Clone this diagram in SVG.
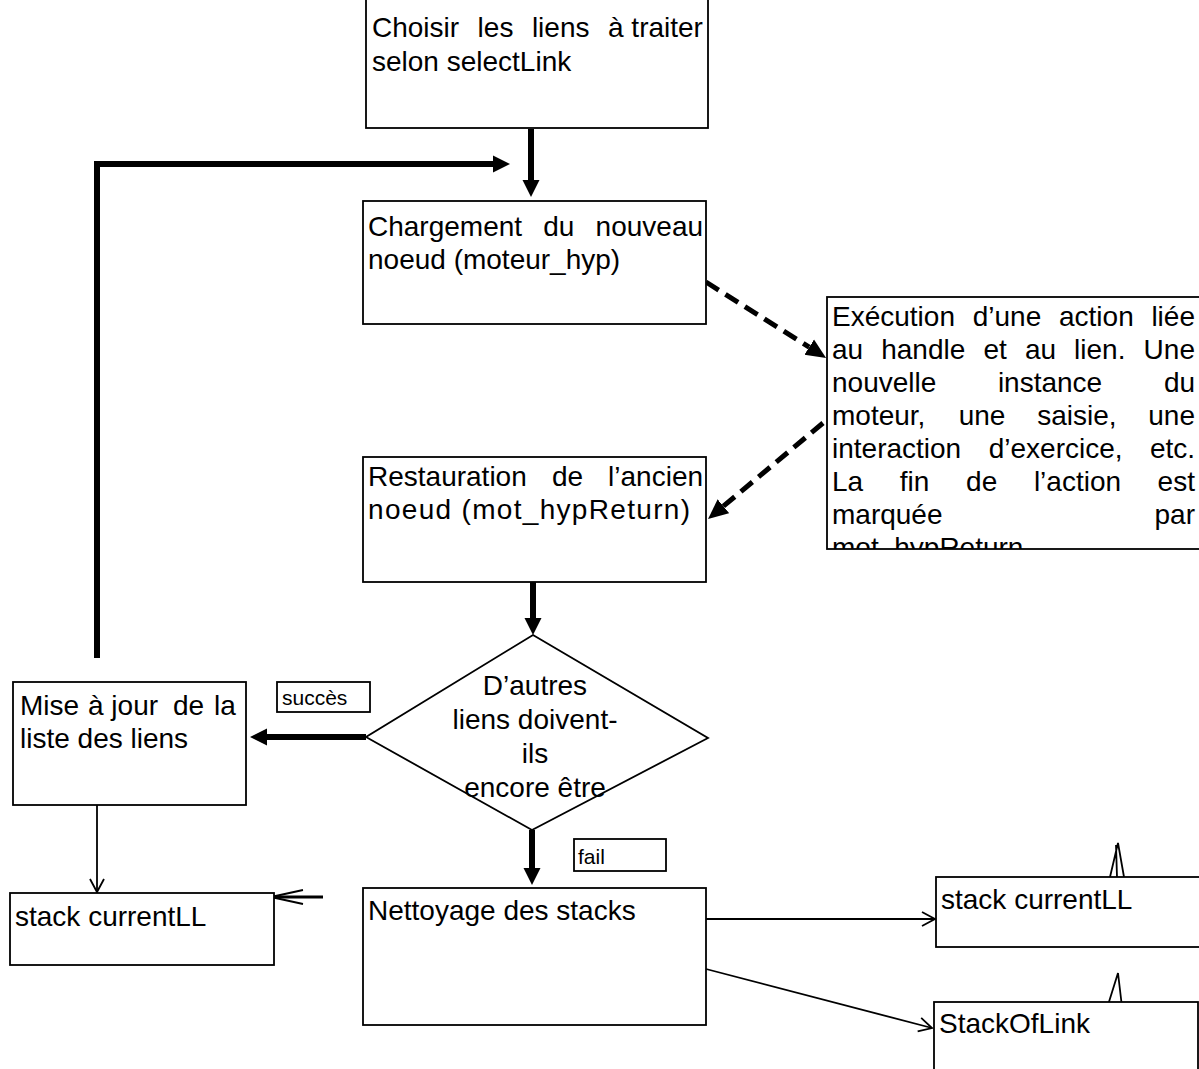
<svg xmlns="http://www.w3.org/2000/svg" width="1199" height="1069" viewBox="0 0 1199 1069">
<style>
.box{fill:#fff;stroke:#000;stroke-width:1.8}
.t{font-family:"Liberation Sans",Arial,sans-serif;font-size:28px;fill:#000}
.lbl{font-family:"Liberation Sans",Arial,sans-serif;font-size:21px;fill:#000}
.thick{fill:none;stroke:#000;stroke-width:6}
.dash{fill:none;stroke:#000;stroke-width:5;stroke-dasharray:15 8}
.thin{fill:none;stroke:#000;stroke-width:1.8}
</style>
<defs>
<marker id="solid" viewBox="0 -9 18 18" refX="0" refY="0" markerWidth="18" markerHeight="18" markerUnits="userSpaceOnUse" orient="auto"><path d="M0,-8.5 L17,0 L0,8.5 z" fill="#000"/></marker>
<marker id="dhead" viewBox="0 -10 21 20" refX="0" refY="0" markerWidth="21" markerHeight="20" markerUnits="userSpaceOnUse" orient="auto"><path d="M0,-9 L20,0 L0,9 z" fill="#000"/></marker>
<marker id="open" viewBox="-15 -9 17 18" refX="0" refY="0" markerWidth="17" markerHeight="18" markerUnits="userSpaceOnUse" orient="auto"><path d="M-13,-7 L0,0 L-13,7" fill="none" stroke="#000" stroke-width="1.8"/></marker>
<marker id="openlong" viewBox="-34 -9 36 18" refX="0" refY="0" markerWidth="36" markerHeight="18" markerUnits="userSpaceOnUse" orient="auto"><path d="M-32,-7 L0,0 L-32,7" fill="none" stroke="#000" stroke-width="1.8"/></marker>
<clipPath id="execClip"><rect x="827" y="297" width="380" height="252"/></clipPath>
</defs>

<g id="connectors">
<path class="thick" d="M531,129 V180" marker-end="url(#solid)"/>
<path class="thick" d="M97,658 V164 H493" marker-end="url(#solid)"/>
<path class="dash" d="M706,282 L809.2,347.2" marker-end="url(#dhead)"/>
<path class="dash" d="M823,423 L723.4,506.2" marker-end="url(#dhead)"/>
<path class="thick" d="M533,582 V618" marker-end="url(#solid)"/>
<path class="thick" d="M366,737 H267" marker-end="url(#solid)"/>
<path class="thick" d="M532,830 V868" marker-end="url(#solid)"/>
<path class="thin" d="M97,805 V892" marker-end="url(#open)"/>
<path fill="none" stroke="#000" stroke-width="3" d="M323,897 H271" marker-end="url(#openlong)"/>
<path class="thin" d="M706,919 H935" marker-end="url(#open)"/>
<path class="thin" d="M706,969 L932,1028" marker-end="url(#open)"/>
<path class="thin" d="M1110,877 L1118,843 L1124,877 M1116,845 L1117,877"/>
<path class="thin" d="M1108,1005 L1118,973 L1122,1007"/>
</g>

<g id="n_choisir">
<rect class="box" x="366" y="-3" width="342" height="131"/>
<text class="t" y="37"><tspan x="372">Choisir</tspan><tspan x="477.6">les</tspan><tspan x="531.9">liens</tspan><tspan x="608">à traiter</tspan></text>
<text class="t" x="372" y="71">selon selectLink</text>
</g>

<g id="n_chargement">
<rect class="box" x="363" y="201" width="343" height="123"/>
<text class="t" y="236"><tspan x="368">Chargement</tspan><tspan x="543.3">du</tspan><tspan x="595.6">nouveau</tspan></text>
<text class="t" x="368" y="269">noeud (moteur_hyp)</text>
</g>

<g id="n_execution">
<rect class="box" x="827" y="297" width="380" height="252"/>
<g clip-path="url(#execClip)">
<text class="t" y="326"><tspan x="832">Exécution</tspan><tspan x="972.7">d’une</tspan><tspan x="1059">action</tspan><tspan x="1151.4">liée</tspan></text>
<text class="t" y="359"><tspan x="832">au</tspan><tspan x="881.2">handle</tspan><tspan x="983.4">et</tspan><tspan x="1024.9">au</tspan><tspan x="1074.1">lien.</tspan><tspan x="1143.6">Une</tspan></text>
<text class="t" y="392"><tspan x="832">nouvelle</tspan><tspan x="997.9">instance</tspan><tspan x="1163.9">du</tspan></text>
<text class="t" y="425"><tspan x="832">moteur,</tspan><tspan x="958.7">une</tspan><tspan x="1037.2">saisie,</tspan><tspan x="1148.3">une</tspan></text>
<text class="t" y="458"><tspan x="832">interaction</tspan><tspan x="988.7">d’exercice,</tspan><tspan x="1149.9">etc.</tspan></text>
<text class="t" y="491"><tspan x="832">La</tspan><tspan x="899.8">fin</tspan><tspan x="966.1">de</tspan><tspan x="1033.9">l’action</tspan><tspan x="1157.6">est</tspan></text>
<text class="t" y="524"><tspan x="832">marquée</tspan><tspan x="1154.5">par</tspan></text>
<text class="t" x="832" y="557">mot_hypReturn</text>
</g>
</g>

<g id="n_restauration">
<rect class="box" x="363" y="457" width="343" height="125"/>
<text class="t" y="486"><tspan x="368">Restauration</tspan><tspan x="551.9">de</tspan><tspan x="608.1">l’ancien</tspan></text>
<text class="t" x="368" y="519" textLength="322" lengthAdjust="spacing">noeud (mot_hypReturn)</text>
</g>

<g id="n_decision">
<polygon class="box" points="533,635 708,738 532,830 366,737"/>
<text class="t" text-anchor="middle"><tspan x="535" y="695">D’autres</tspan><tspan x="535" y="729">liens doivent-</tspan><tspan x="535" y="763">ils</tspan><tspan x="535" y="797">encore être</tspan></text>
</g>

<g id="n_mise">
<rect class="box" x="13" y="682" width="233" height="123"/>
<text class="t" y="715"><tspan x="20">Mise</tspan><tspan x="88">à jour</tspan><tspan x="173">de</tspan><tspan x="214">la</tspan></text>
<text class="t" x="20" y="748">liste des liens</text>
</g>

<g id="l_succes">
<rect class="box" x="277" y="682" width="93" height="30"/>
<text class="lbl" x="282" y="705">succès</text>
</g>

<g id="l_fail">
<rect class="box" x="574" y="839" width="92" height="32"/>
<text class="lbl" x="578" y="864">fail</text>
</g>

<g id="n_nettoyage">
<rect class="box" x="363" y="888" width="343" height="137"/>
<text class="t" x="368" y="920">Nettoyage des stacks</text>
</g>

<g id="n_stack_left">
<rect class="box" x="10" y="893" width="264" height="72"/>
<text class="t" x="15" y="926">stack currentLL</text>
</g>

<g id="n_stack_right">
<rect class="box" x="936" y="877" width="280" height="70"/>
<text class="t" x="941" y="909">stack currentLL</text>
</g>

<g id="n_stackoflink">
<rect class="box" x="934" y="1002" width="264" height="90"/>
<text class="t" x="939" y="1033">StackOfLink</text>
</g>
</svg>
